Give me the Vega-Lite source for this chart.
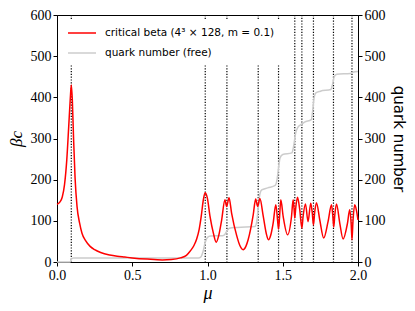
{
  "$schema": "https://vega.github.io/schema/vega-lite/v6.json",
  "width": 301,
  "height": 247,
  "autosize": {"type": "none"},
  "padding": {"left": 57, "top": 15, "right": 57, "bottom": 49},
  "background": "white",
  "datasets": {
    "lines": [
      {"mu": 0.095}, {"mu": 0.985}, {"mu": 1.129}, {"mu": 1.337}, {"mu": 1.472},
      {"mu": 1.58}, {"mu": 1.627}, {"mu": 1.704}, {"mu": 1.837}, {"mu": 1.96}
    ],
    "quark": [
      {"mu": 0.0, "n": 0}, {"mu": 0.085, "n": 0}, {"mu": 0.092, "n": 3}, {"mu": 0.1, "n": 9},
      {"mu": 0.11, "n": 10}, {"mu": 0.5, "n": 10}, {"mu": 0.94, "n": 10}, {"mu": 0.955, "n": 12},
      {"mu": 0.97, "n": 25}, {"mu": 0.985, "n": 48}, {"mu": 1.0, "n": 60}, {"mu": 1.02, "n": 63},
      {"mu": 1.1, "n": 64}, {"mu": 1.115, "n": 67}, {"mu": 1.13, "n": 76}, {"mu": 1.145, "n": 82},
      {"mu": 1.2, "n": 84}, {"mu": 1.315, "n": 86}, {"mu": 1.328, "n": 100}, {"mu": 1.338, "n": 135},
      {"mu": 1.348, "n": 165}, {"mu": 1.36, "n": 175}, {"mu": 1.4, "n": 180}, {"mu": 1.45, "n": 186},
      {"mu": 1.462, "n": 200}, {"mu": 1.472, "n": 228}, {"mu": 1.482, "n": 253}, {"mu": 1.5, "n": 261},
      {"mu": 1.56, "n": 265}, {"mu": 1.572, "n": 280}, {"mu": 1.585, "n": 312}, {"mu": 1.6, "n": 327},
      {"mu": 1.625, "n": 335}, {"mu": 1.645, "n": 340}, {"mu": 1.69, "n": 346}, {"mu": 1.698, "n": 365},
      {"mu": 1.708, "n": 398}, {"mu": 1.72, "n": 411}, {"mu": 1.75, "n": 415}, {"mu": 1.82, "n": 419},
      {"mu": 1.83, "n": 430}, {"mu": 1.842, "n": 450}, {"mu": 1.86, "n": 456}, {"mu": 1.95, "n": 458},
      {"mu": 1.965, "n": 461}, {"mu": 2.0, "n": 463}
    ],
    "beta": [
      {"mu": 0.0, "b": 140}, {"mu": 0.02, "b": 146}, {"mu": 0.035, "b": 158}, {"mu": 0.05, "b": 188},
      {"mu": 0.065, "b": 248}, {"mu": 0.078, "b": 330}, {"mu": 0.088, "b": 395}, {"mu": 0.095, "b": 430},
      {"mu": 0.102, "b": 392}, {"mu": 0.11, "b": 300}, {"mu": 0.12, "b": 205}, {"mu": 0.133, "b": 135},
      {"mu": 0.15, "b": 95}, {"mu": 0.166, "b": 70}, {"mu": 0.19, "b": 52}, {"mu": 0.22, "b": 38},
      {"mu": 0.25, "b": 30}, {"mu": 0.29, "b": 23}, {"mu": 0.35, "b": 17}, {"mu": 0.4, "b": 14},
      {"mu": 0.45, "b": 12}, {"mu": 0.5, "b": 10}, {"mu": 0.6, "b": 7}, {"mu": 0.7, "b": 5},
      {"mu": 0.76, "b": 6}, {"mu": 0.82, "b": 10}, {"mu": 0.86, "b": 16}, {"mu": 0.884, "b": 26},
      {"mu": 0.91, "b": 40}, {"mu": 0.928, "b": 56}, {"mu": 0.945, "b": 80}, {"mu": 0.958, "b": 110},
      {"mu": 0.972, "b": 150}, {"mu": 0.984, "b": 168}, {"mu": 0.999, "b": 155}, {"mu": 1.017, "b": 110},
      {"mu": 1.039, "b": 70}, {"mu": 1.058, "b": 48}, {"mu": 1.075, "b": 65}, {"mu": 1.094, "b": 102},
      {"mu": 1.116, "b": 151}, {"mu": 1.127, "b": 135}, {"mu": 1.143, "b": 156}, {"mu": 1.16, "b": 119},
      {"mu": 1.194, "b": 64}, {"mu": 1.215, "b": 40}, {"mu": 1.237, "b": 30}, {"mu": 1.255, "b": 38},
      {"mu": 1.27, "b": 54}, {"mu": 1.304, "b": 115}, {"mu": 1.32, "b": 153}, {"mu": 1.333, "b": 135},
      {"mu": 1.348, "b": 154}, {"mu": 1.37, "b": 112}, {"mu": 1.39, "b": 70}, {"mu": 1.405, "b": 54},
      {"mu": 1.42, "b": 65}, {"mu": 1.436, "b": 94}, {"mu": 1.454, "b": 139}, {"mu": 1.466, "b": 100},
      {"mu": 1.472, "b": 80}, {"mu": 1.478, "b": 105}, {"mu": 1.487, "b": 151}, {"mu": 1.503, "b": 110},
      {"mu": 1.532, "b": 66}, {"mu": 1.558, "b": 110}, {"mu": 1.569, "b": 151}, {"mu": 1.575, "b": 130},
      {"mu": 1.58, "b": 107}, {"mu": 1.586, "b": 130}, {"mu": 1.598, "b": 157}, {"mu": 1.613, "b": 127},
      {"mu": 1.627, "b": 82}, {"mu": 1.635, "b": 110}, {"mu": 1.651, "b": 141}, {"mu": 1.668, "b": 98},
      {"mu": 1.686, "b": 143}, {"mu": 1.696, "b": 120}, {"mu": 1.704, "b": 90}, {"mu": 1.712, "b": 120},
      {"mu": 1.724, "b": 144}, {"mu": 1.746, "b": 102}, {"mu": 1.772, "b": 58}, {"mu": 1.801, "b": 98},
      {"mu": 1.824, "b": 139}, {"mu": 1.832, "b": 115}, {"mu": 1.839, "b": 85}, {"mu": 1.846, "b": 115},
      {"mu": 1.857, "b": 141}, {"mu": 1.879, "b": 94}, {"mu": 1.901, "b": 56}, {"mu": 1.93, "b": 94},
      {"mu": 1.945, "b": 127}, {"mu": 1.955, "b": 90}, {"mu": 1.96, "b": 54}, {"mu": 1.966, "b": 95},
      {"mu": 1.978, "b": 139}, {"mu": 1.99, "b": 125}, {"mu": 2.0, "b": 102}
    ]
  },
  "layer": [
    {
      "data": {"name": "lines"},
      "mark": {"type": "rule", "color": "black", "strokeWidth": 1.2, "strokeDash": [1.2, 1.6]},
      "encoding": {
        "x": {"field": "mu", "type": "quantitative", "scale": {"domain": [0, 2], "padding": 0, "nice": false}}
      }
    },
    {
      "data": {"name": "quark"},
      "mark": {"type": "line", "strokeWidth": 1.5, "interpolate": "monotone"},
      "encoding": {
        "x": {"field": "mu", "type": "quantitative", "scale": {"domain": [0, 2], "padding": 0, "nice": false}},
        "y": {
          "field": "n", "type": "quantitative", "scale": {"domain": [0, 600]},
          "axis": {"orient": "right", "title": "quark number", "values": [0, 100, 200, 300, 400, 500, 600],
                   "labelFont": "Liberation Serif", "labelFontSize": 14,
                   "titleFont": "DejaVu Sans", "titleFontSize": 15, "titleFontWeight": "normal", "titlePadding": 5}
        },
        "color": {"datum": "quark number (free)"}
      }
    },
    {
      "data": {"name": "beta"},
      "mark": {"type": "line", "strokeWidth": 1.5, "interpolate": "monotone"},
      "encoding": {
        "x": {
          "field": "mu", "type": "quantitative", "scale": {"domain": [0, 2], "padding": 0, "nice": false},
          "axis": {"title": "μ", "values": [0, 0.5, 1, 1.5, 2], "format": ".1f", "labelFlush": false,
                   "labelFont": "Liberation Serif", "labelFontSize": 14,
                   "titleFont": "Liberation Serif", "titleFontStyle": "italic", "titleFontSize": 18,
                   "titleFontWeight": "normal", "titlePadding": 2}
        },
        "y": {
          "field": "b", "type": "quantitative", "scale": {"domain": [0, 600]},
          "axis": {"orient": "left", "title": "βc", "values": [0, 100, 200, 300, 400, 500, 600],
                   "labelFont": "Liberation Serif", "labelFontSize": 14,
                   "titleFont": "Liberation Serif", "titleFontStyle": "italic", "titleFontSize": 17,
                   "titleFontWeight": "normal", "titlePadding": 5}
        },
        "color": {
          "datum": "critical beta (4³ × 128, m = 0.1)",
          "scale": {"domain": ["critical beta (4³ × 128, m = 0.1)", "quark number (free)"], "range": ["#ff0000", "#cccccc"]},
          "legend": {
            "orient": "top-left", "offset": 5, "padding": 5, "fillColor": "white", "title": null,
            "symbolType": "M-1,0H3", "symbolSize": 196, "symbolStrokeWidth": 1.5,
            "labelFont": "DejaVu Sans", "labelFontSize": 10.5, "labelOffset": 22, "rowPadding": 6,
            "labelColor": "black", "labelLimit": 300
          }
        }
      }
    }
  ],
  "resolve": {"scale": {"y": "independent"}, "axis": {"y": "independent"}},
  "config": {
    "view": {"stroke": "black", "strokeWidth": 1},
    "axis": {
      "grid": false, "domainColor": "black", "domainWidth": 1, "tickColor": "black", "tickSize": 4,
      "labelColor": "black", "titleColor": "black", "labelFont": "Liberation Serif", "labelFontSize": 14,
      "labelPadding": 2
    }
  }
}
